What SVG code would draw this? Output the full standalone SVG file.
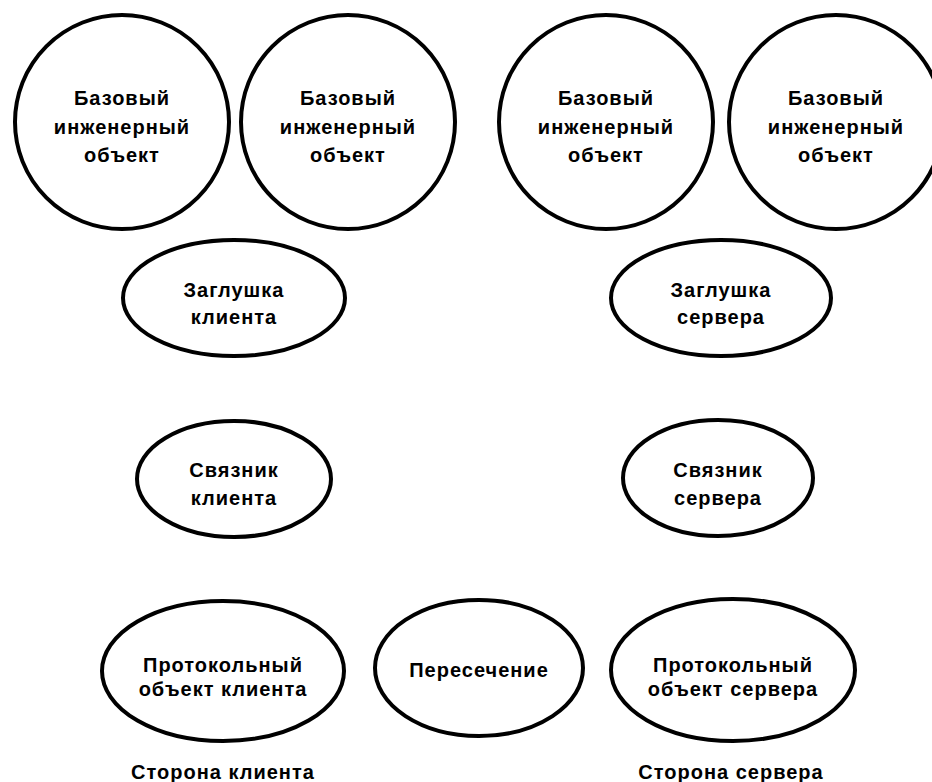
<svg xmlns="http://www.w3.org/2000/svg" width="932" height="782" viewBox="0 0 932 782">
<style>
.n{fill:#fff;stroke:#000;stroke-width:4}
.t{font-family:"Liberation Sans",Arial,sans-serif;font-weight:bold;font-size:20px;letter-spacing:1px;text-anchor:middle;fill:#000}
</style>
<rect width="932" height="782" fill="#fff"/>
<g id="connectors"></g>
<g id="base1"><circle class="n" cx="122" cy="122" r="107"/><text class="t" x="122" y="105">Базовый</text><text class="t" x="122" y="134">инженерный</text><text class="t" x="122" y="162">объект</text></g>
<g id="base2"><circle class="n" cx="348" cy="122" r="107"/><text class="t" x="348" y="105">Базовый</text><text class="t" x="348" y="134">инженерный</text><text class="t" x="348" y="162">объект</text></g>
<g id="base3"><circle class="n" cx="606" cy="122" r="107"/><text class="t" x="606" y="105">Базовый</text><text class="t" x="606" y="134">инженерный</text><text class="t" x="606" y="162">объект</text></g>
<g id="base4"><circle class="n" cx="836" cy="122" r="107"/><text class="t" x="836" y="105">Базовый</text><text class="t" x="836" y="134">инженерный</text><text class="t" x="836" y="162">объект</text></g>
<g id="stub-client"><ellipse class="n" cx="234" cy="298" rx="111" ry="58"/><text class="t" x="234" y="297">Заглушка</text><text class="t" x="234" y="324">клиента</text></g>
<g id="stub-server"><ellipse class="n" cx="721" cy="298" rx="110" ry="58"/><text class="t" x="721" y="297">Заглушка</text><text class="t" x="721" y="324">сервера</text></g>
<g id="binder-client"><ellipse class="n" cx="234" cy="479" rx="97" ry="58"/><text class="t" x="234" y="477">Связник</text><text class="t" x="234" y="505">клиента</text></g>
<g id="binder-server"><ellipse class="n" cx="718" cy="478" rx="95" ry="58"/><text class="t" x="718" y="477">Связник</text><text class="t" x="718" y="505">сервера</text></g>
<g id="proto-client"><ellipse class="n" cx="223" cy="671" rx="121" ry="70"/><text class="t" x="223" y="672">Протокольный</text><text class="t" x="223" y="696">объект клиента</text></g>
<g id="interceptor"><ellipse class="n" cx="479" cy="668" rx="104" ry="68"/><text class="t" x="479" y="677">Пересечение</text></g>
<g id="proto-server"><ellipse class="n" cx="733" cy="670" rx="122" ry="71"/><text class="t" x="733" y="672">Протокольный</text><text class="t" x="733" y="696">объект сервера</text></g>
<text class="t" x="223" y="779">Сторона клиента</text>
<text class="t" x="731" y="779">Сторона сервера</text>
</svg>
